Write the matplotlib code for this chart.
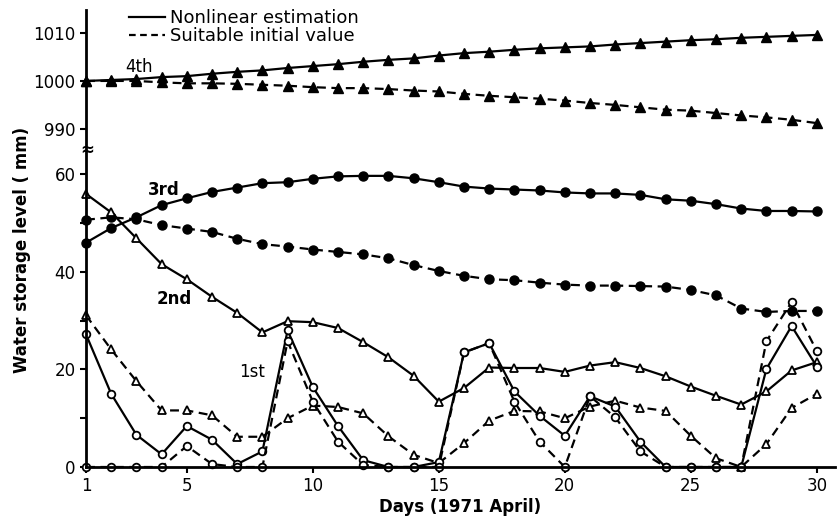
import matplotlib
matplotlib.use("Agg")
import matplotlib.pyplot as plt
from matplotlib.lines import Line2D

days = list(range(1, 31))

# 4th layer (upper part of the broken axis)
fourth_est = [1000.0, 1000.2, 1000.4, 1000.8, 1001.0, 1001.5, 1001.9, 1002.2, 1002.7, 1003.1,
              1003.5, 1004.0, 1004.4, 1004.7, 1005.3, 1005.8, 1006.1, 1006.5, 1006.8, 1007.0,
              1007.2, 1007.6, 1007.9, 1008.2, 1008.5, 1008.7, 1009.0, 1009.2, 1009.4, 1009.6]
fourth_init = [1000.0, 1000.0, 1000.0, 999.7, 999.5, 999.5, 999.4, 999.2, 999.0, 998.7,
               998.5, 998.5, 998.3, 998.0, 997.8, 997.3, 996.9, 996.6, 996.3, 995.9,
               995.4, 995.0, 994.5, 994.0, 993.8, 993.3, 992.8, 992.4, 991.9, 991.2]

# 3rd layer
third_est = [46.0, 49.0, 51.2, 53.7, 55.1, 56.4, 57.3, 58.2, 58.4, 59.1,
             59.6, 59.7, 59.7, 59.2, 58.4, 57.5, 57.1, 56.9, 56.7, 56.3,
             56.1, 56.1, 55.8, 54.9, 54.6, 53.9, 53.0, 52.5, 52.5, 52.4]
third_init = [50.7, 51.2, 50.8, 49.6, 48.9, 48.2, 46.8, 45.7, 45.2, 44.6,
              44.1, 43.6, 42.8, 41.4, 40.2, 39.2, 38.5, 38.3, 37.8, 37.4,
              37.2, 37.2, 37.1, 37.0, 36.3, 35.2, 32.5, 31.8, 32.0, 32.0]

# 2nd layer
second_est = [56.0, 52.2, 46.9, 41.6, 38.5, 34.9, 31.6, 27.6, 29.9, 29.7,
              28.5, 25.6, 22.5, 18.7, 13.4, 16.2, 20.4, 20.3, 20.3, 19.5,
              20.8, 21.5, 20.3, 18.6, 16.5, 14.6, 12.8, 15.5, 19.8, 21.5]
second_init = [31.1, 24.1, 17.6, 11.6, 11.6, 10.6, 6.2, 6.2, 10.0, 12.6,
               12.3, 11.0, 6.3, 2.5, 0.8, 4.9, 9.5, 11.5, 11.4, 10.0,
               12.4, 13.6, 12.2, 11.5, 6.4, 1.8, 0.0, 4.7, 12.1, 15.0]

# 1st layer
first_est = [27.2, 15.0, 6.6, 2.6, 8.4, 5.6, 0.6, 3.2, 28.0, 16.4,
             8.4, 1.4, 0.0, 0.0, 1.0, 23.5, 25.4, 15.5, 10.5, 6.4,
             14.5, 12.4, 5.2, 0.0, 0.0, 0.0, 0.0, 20.1, 28.9, 20.6]
first_init = [0.0, 0.0, 0.0, 0.0, 4.3, 0.6, 0.0, 0.0, 25.8, 13.4,
              5.2, 0.4, 0.0, 0.0, 0.0, 23.5, 25.4, 13.4, 5.2, 0.0,
              14.5, 10.2, 3.2, 0.0, 0.0, 0.0, 0.0, 25.8, 33.8, 23.8]

x_ticks = [1, 5, 10, 15, 20, 25, 30]

W, H = 838, 524
fig = plt.figure(figsize=(W / 100, H / 100), dpi=100)
left, right = 86, 835
ax_top = fig.add_axes([left / W, (H - 149) / H, (right - left) / W, 139 / H])
ax = fig.add_axes([left / W, (H - 467) / H, (right - left) / W, (467 - 151) / H])

solid = dict(color="black", lw=1.6, clip_on=False)
dash = dict(color="black", lw=1.6, ls=(0, (4, 2.5)), clip_on=False)

ax_top.plot(days, fourth_est, marker="^", ms=7.5, **solid)
ax_top.plot(days, fourth_init, marker="^", ms=7.5, **dash)

ax.plot(days, third_est, marker="o", ms=6.5, **solid)
ax.plot(days, third_init, marker="o", ms=6.5, **dash)
ax.plot(days, second_est, marker="^", ms=6, mfc="white", mew=1.3, **solid)
ax.plot(days, second_init, marker="^", ms=6, mfc="white", mew=1.3, **dash)
ax.plot(days, first_est, marker="o", ms=5.5, mfc="white", mew=1.3, **solid)
ax.plot(days, first_init, marker="o", ms=5.5, mfc="white", mew=1.3, **dash)

xmin, xmax = 1, 1 + (right - left) / 25.2
for a in (ax_top, ax):
    a.set_xlim(xmin, xmax)
    for s in ("top", "right"):
        a.spines[s].set_visible(False)
    a.spines["left"].set_linewidth(2)
    a.tick_params(axis="both", direction="out", length=4, width=1.5, labelsize=12)

ax_top.set_ylim(985.8, 1014.8)
ax_top.set_yticks([990, 1000, 1010])
ax_top.spines["bottom"].set_visible(False)
ax_top.set_xticks([])

ax.set_ylim(0, 64.8)
ax.set_yticks([0, 20, 40, 60])
ax.set_yticks([10, 30, 50], minor=True)
ax.tick_params(axis="y", which="minor", length=4, width=1.5)
ax.spines["bottom"].set_linewidth(2)
ax.set_xticks(x_ticks)

# axis break mark
fig.text((left + 1) / W, 1 - 150 / H, "≈", ha="center", va="center", fontsize=12,
         fontweight="bold")

ax.set_xlabel("Days (1971 April)", fontsize=12, fontweight="bold", labelpad=2)
fig.text(22 / W, 1 - 250 / H, "Water storage level ( mm)", rotation=90,
         ha="center", va="center", fontsize=12, fontweight="bold")

ax_top.text(3.1, 1003.0, "4th", fontsize=12, ha="center", va="center")
ax.text(4.1, 56.8, "3rd", fontsize=12, fontweight="bold", ha="center", va="center")
ax.text(4.5, 34.5, "2nd", fontsize=12, fontweight="bold", ha="center", va="center")
ax.text(7.6, 19.5, "1st", fontsize=12, ha="center", va="center")

handles = [Line2D([], [], color="black", lw=1.6),
           Line2D([], [], color="black", lw=1.6, ls=(0, (3, 2)))]
ax_top.legend(handles, ["Nonlinear estimation", "Suitable initial value"],
              loc="upper left", bbox_to_anchor=(0.045, 1.07), frameon=False,
              fontsize=13, handlelength=2.0, handletextpad=0.3, labelspacing=0.0,
              borderpad=0)

fig.savefig("out.png", dpi=100)
